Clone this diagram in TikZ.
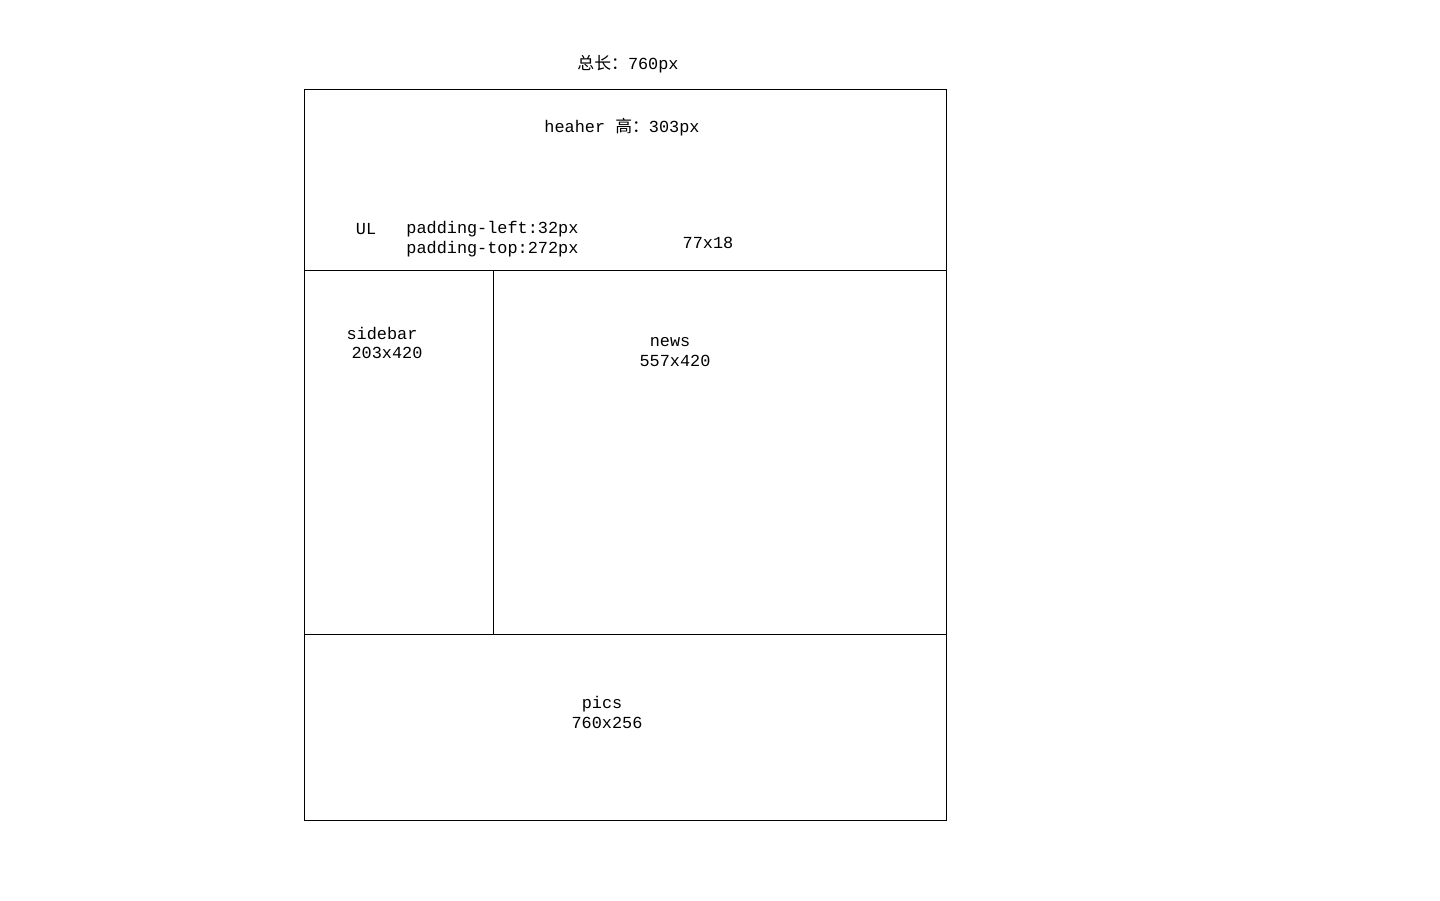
\documentclass[tikz,border=0pt]{standalone}
\usepackage{fontspec}
\setmainfont{Liberation Mono}
\newfontfamily\cjk{Noto Sans CJK SC}
\usetikzlibrary{positioning}

\begin{document}
\begin{tikzpicture}[x=0.02cm, y=-0.02cm, line width=0.45pt,
  lbl/.style={inner sep=0pt, font=\fontsize{9.6pt}{11pt}\selectfont}]

\useasboundingbox (0,0) rectangle (1440,900) ;

% frame
\coordinate (tl) at (304,89) ;
\coordinate (br) at (946,820) ;
\coordinate (hl) at (304,270) ;
\coordinate (hr) at (946,270) ;
\coordinate (pl) at (304,634) ;
\coordinate (pr) at (946,634) ;
\coordinate (st) at (493,270) ;
\coordinate (sb) at (493,634) ;

\draw (tl) rectangle (br) ;
\draw (hl) -- (hr) ;
\draw (pl) -- (pr) ;
\draw (st) -- (sb) ;

% labels
\node [lbl] (total) at (628,64) {{\cjk 总长：}760px} ;
\node [lbl] (header) at (622,127) {heaher {\cjk 高：}303px} ;
\node [lbl] (ul) at (366,229) {UL} ;
\node [lbl, anchor=west] (padl) at (406,229) {padding-left:32px} ;
\node [lbl, anchor=west] (padt) at (406,249) {padding-top:272px} ;
\node [lbl] (ulsize) at (708,243) {77x18} ;
\node [lbl] (sidebar) at (382,333) {sidebar} ;
\node [lbl] (sidesize) at (387,353) {203x420} ;
\node [lbl] (news) at (670,342) {news} ;
\node [lbl] (newssize) at (675,361) {557x420} ;
\node [lbl] (pics) at (602,704) {pics} ;
\node [lbl] (picssize) at (607,723) {760x256} ;
\end{tikzpicture}
\end{document}
